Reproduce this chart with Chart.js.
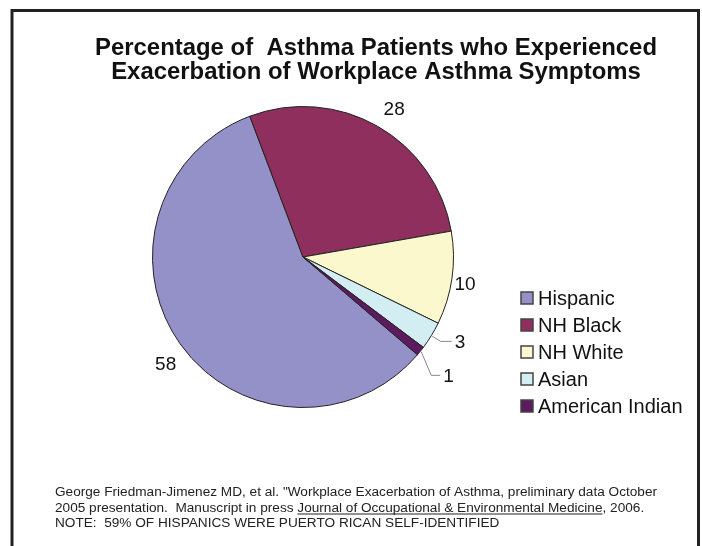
<!DOCTYPE html>
<html>
<head>
<meta charset="utf-8">
<script src="https://cdn.jsdelivr.net/npm/chart.js@4/dist/chart.umd.min.js"></script>
<style>
  html, body { margin: 0; padding: 0; background: #fff; }
  #wrap { width: 702px; height: 546px; position: relative; }
</style>
</head>
<body>
<div id="wrap"><canvas id="pieChart" width="702" height="546"></canvas></div>
<script>
// chart data
const categories = ['Hispanic', 'NH Black', 'NH White', 'Asian', 'American Indian'];
const percentages = [58, 28, 10, 3, 1];
const sliceColors = ['#9391C8', '#8E2F5E', '#FBF8CE', '#D3EEF2', '#5C1B5F'];

const titleLines = [
    'Percentage of  Asthma Patients who Experienced',
    'Exacerbation of Workplace Asthma Symptoms'
];
const noteLines = [
    'George Friedman-Jimenez MD, et al. "Workplace Exacerbation of Asthma, preliminary data October',
    '2005 presentation.  Manuscript in press ',
    'NOTE:  59% OF HISPANICS WERE PUERTO RICAN SELF-IDENTIFIED'
];
const journalName = 'Journal of Occupational & Environmental Medicine';
const journalTail = ', 2006.';

// label placement: distance past the rim, small angle nudge (deg), optional leader line
const labelGap = [24, 23, 14, 30, 38];
const labelTurn = [-3, 2, 1.7, 0, 0];
const leaders = [null, null, null, { elbow: 11, turn: 0, run: 11 }, { elbow: 24, turn: 4, run: 9 }];

const FONT = '"Liberation Sans", Arial, sans-serif';

// draws frame, title, value labels, legend and footnote
const decorPlugin = {
    id: 'decor',
    afterDraw(chart) {
        const ctx = chart.ctx;
        ctx.save();

        // frame (open at the bottom)
        ctx.strokeStyle = '#222';
        ctx.lineWidth = 3;
        ctx.beginPath();
        ctx.moveTo(12, 546);
        ctx.lineTo(12, 10.5);
        ctx.lineTo(698.5, 10.5);
        ctx.lineTo(698.5, 546);
        ctx.stroke();

        // title, squeezed to the original width
        ctx.fillStyle = '#111';
        ctx.font = 'bold 23px ' + FONT;
        ctx.textBaseline = 'alphabetic';
        ctx.textAlign = 'center';
        const tScale = 562 / ctx.measureText(titleLines[0]).width;
        ctx.save();
        ctx.translate(376, 0);
        ctx.scale(tScale, 1);
        ctx.fillText(titleLines[0], 0, 55);
        ctx.fillText(titleLines[1], 0, 79);
        ctx.restore();

        // value labels
        const meta = chart.getDatasetMeta(0);
        const values = chart.data.datasets[0].data;
        ctx.font = '19px ' + FONT;
        ctx.textBaseline = 'middle';
        meta.data.forEach((arc, i) => {
            const p = arc.getProps(['x', 'y', 'startAngle', 'endAngle', 'outerRadius'], true);
            const mid = (p.startAngle + p.endAngle) / 2;
            const r = p.outerRadius;
            const lead = leaders[i];
            if (lead) {
                const a2 = mid + lead.turn * Math.PI / 180;
                const sx = p.x + (r + 1) * Math.cos(mid), sy = p.y + (r + 1) * Math.sin(mid);
                const ex = p.x + (r + lead.elbow) * Math.cos(a2), ey = p.y + (r + lead.elbow) * Math.sin(a2);
                ctx.strokeStyle = '#888';
                ctx.lineWidth = 1;
                ctx.beginPath();
                ctx.moveTo(sx, sy);
                ctx.lineTo(ex, ey);
                ctx.lineTo(ex + lead.run, ey);
                ctx.stroke();
                ctx.textAlign = 'left';
                ctx.fillStyle = '#111';
                ctx.fillText(String(values[i]), ex + lead.run + 3, ey + 1);
            } else {
                const d = r + labelGap[i];
                const a = mid + labelTurn[i] * Math.PI / 180;
                ctx.textAlign = 'center';
                ctx.fillStyle = '#111';
                ctx.fillText(String(values[i]), p.x + d * Math.cos(a), p.y + d * Math.sin(a));
            }
        });

        // legend
        ctx.font = '20px ' + FONT;
        ctx.textAlign = 'left';
        chart.data.labels.forEach((lab, i) => {
            const cy = 298 + i * 27;
            ctx.fillStyle = chart.data.datasets[0].backgroundColor[i];
            ctx.fillRect(521, cy - 6, 12, 12);
            ctx.strokeStyle = '#444';
            ctx.lineWidth = 1.5;
            ctx.strokeRect(521, cy - 6, 12, 12);
            ctx.fillStyle = '#111';
            ctx.fillText(lab, 538, cy + 1);
        });

        // footnote, squeezed to the original width
        ctx.font = '12.5px ' + FONT;
        ctx.fillStyle = '#222';
        ctx.textBaseline = 'alphabetic';
        const nScale = 602 / ctx.measureText(noteLines[0]).width;
        ctx.save();
        ctx.translate(55, 0);
        ctx.scale(nScale, 1);
        ctx.fillText(noteLines[0], 0, 496);
        ctx.fillText(noteLines[1], 0, 512);
        const jx = ctx.measureText(noteLines[1]).width;
        const jw = ctx.measureText(journalName).width;
        ctx.fillText(journalName, jx, 512);
        ctx.fillText(journalTail, jx + jw, 512);
        ctx.fillRect(jx, 513.5, jw, 1);
        ctx.fillText(noteLines[2], 0, 527);
        ctx.restore();

        ctx.restore();
    }
};

new Chart(document.getElementById('pieChart'), {
    type: 'pie',
    data: {
        labels: categories,
        datasets: [{
            data: percentages,
            backgroundColor: sliceColors,
            borderColor: '#222',
            borderWidth: 1
        }]
    },
    options: {
        responsive: false,
        animation: false,
        devicePixelRatio: 1,
        rotation: 130.5,
        layout: {
            padding: { left: 152, right: 248, top: 106, bottom: 138 }
        },
        events: [],
        plugins: {
            legend: { display: false },
            title: { display: false },
            tooltip: { enabled: false }
        }
    },
    plugins: [decorPlugin]
});
</script>
</body>
</html>
